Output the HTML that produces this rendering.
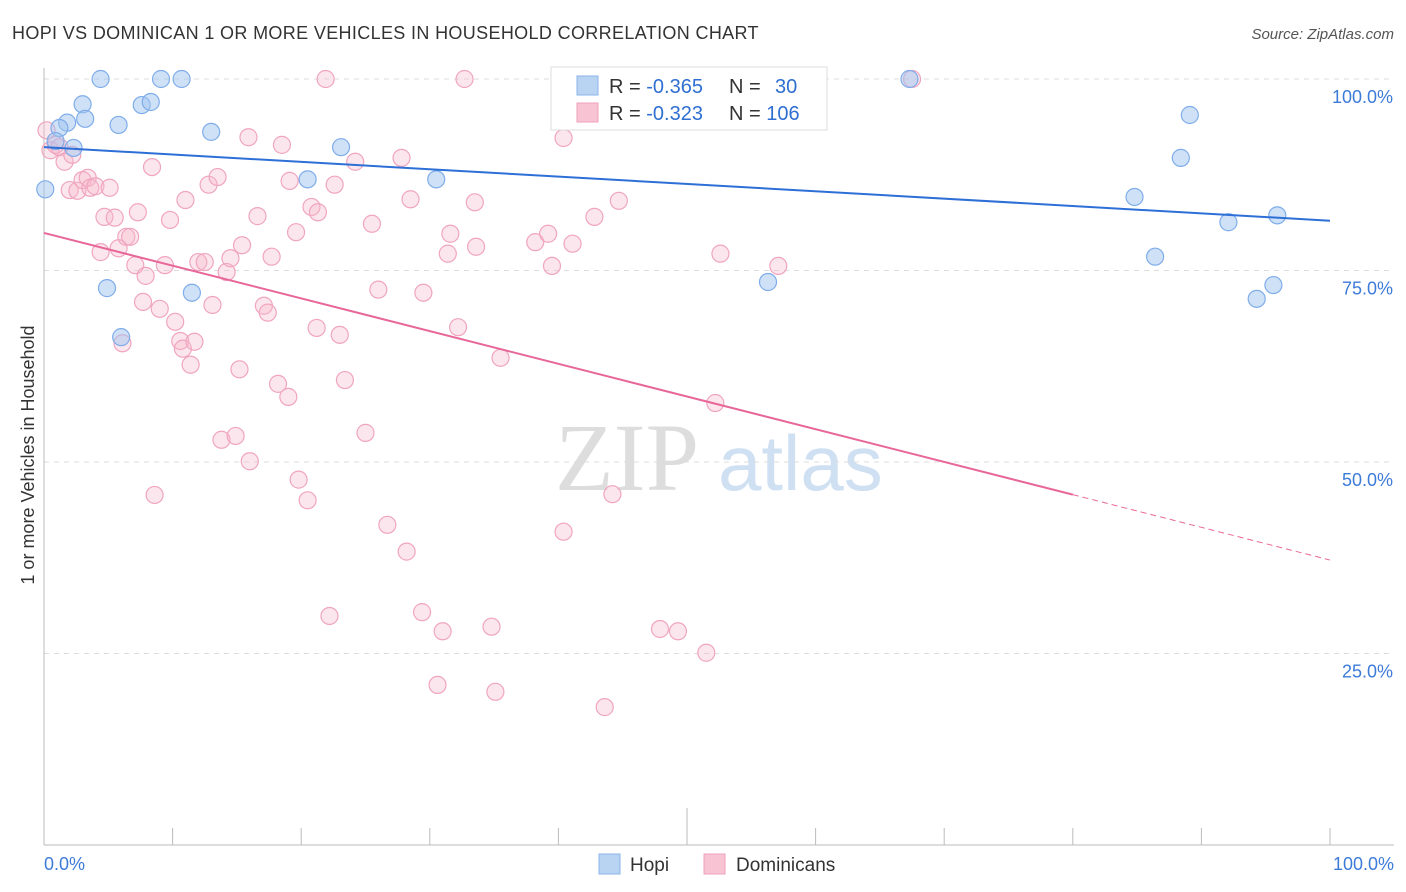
<!DOCTYPE html>
<html><head><meta charset="utf-8"><style>
body{margin:0;background:#fff;font-family:"Liberation Sans",sans-serif;}
svg{display:block}
</style></head><body>
<svg id="chart" width="1406" height="892">
<text x="12" y="39" font-size="18" fill="#333" letter-spacing="0.35">HOPI VS DOMINICAN 1 OR MORE VEHICLES IN HOUSEHOLD CORRELATION CHART</text>
<text x="1394" y="39" font-size="15" fill="#555" font-style="italic" text-anchor="end">Source: ZipAtlas.com</text>
<g>
<text x="555" y="490" font-size="96" font-family="Liberation Serif,serif" fill="#ddd">ZIP</text>
<text x="718" y="490" font-size="78" fill="#cfe0f3">atlas</text>
</g>
<g id="grid"></g>
<g id="axes"></g>
<g id="marks"></g>
<g id="trends"></g>
<text transform="translate(34,455) rotate(-90)" font-size="18" fill="#333" text-anchor="middle">1 or more Vehicles in Household</text>
<g>
<rect x="551" y="67" width="276" height="63" fill="#fff" stroke="#ddd"/>
<rect x="577" y="76" width="21" height="19" fill="#b9d3f3" stroke="#8ab4e8"/>
<rect x="577" y="103" width="21" height="19" fill="#f8c3d3" stroke="#f0a0bb"/>
<text x="609" y="93" font-size="20" fill="#333">R = <tspan fill="#2f6fd1">-0.365</tspan></text>
<text x="729" y="93" font-size="20" fill="#333">N = <tspan fill="#2f6fd1" x="775">30</tspan></text>
<text x="609" y="120" font-size="20" fill="#333">R = <tspan fill="#2f6fd1">-0.323</tspan></text>
<text x="729" y="120" font-size="20" fill="#333">N = <tspan fill="#2f6fd1">106</tspan></text>
</g>
<g>
<rect x="599" y="854" width="21" height="20" fill="#b9d3f3" stroke="#8ab4e8"/>
<text x="630" y="871" font-size="19" fill="#333">Hopi</text>
<rect x="704" y="854" width="21" height="20" fill="#f8c3d3" stroke="#f0a0bb"/>
<text x="736" y="871" font-size="19" fill="#333">Dominicans</text>
</g>
</svg>
<script>
const hopiX=[0.1,1.8,1.2,2.3,3.0,3.2,4.4,5.8,7.6,8.3,9.1,10.7,13.0,4.9,6.0,11.5,20.5,23.1,30.5,67.3,84.8,86.4,88.4,89.1,92.1,94.3,95.6,95.9,56.3,0.9];
const hopiY=[85.6,94.3,93.6,91.0,96.7,94.8,100,94.0,96.6,97.0,100,100,93.1,72.7,66.3,72.1,86.9,91.1,86.9,100,84.6,76.8,89.7,95.3,81.3,71.3,73.1,82.2,73.5,91.9];
const domX=[0.2,0.5,0.9,1.2,1.6,2.0,2.2,2.6,3.0,3.4,3.6,4.0,4.4,4.7,5.1,5.5,5.8,6.1,6.4,6.7,7.1,7.3,7.9,7.7,8.4,8.6,9.0,9.4,9.8,10.2,10.6,10.8,11.0,11.4,11.7,12.0,12.5,12.8,13.1,13.5,13.8,14.2,14.5,14.9,15.2,15.4,15.9,16.0,16.6,17.1,17.4,17.7,18.2,18.5,19.0,19.1,19.6,19.8,20.5,20.8,21.2,21.3,22.2,22.6,23.0,23.4,24.2,25.0,25.5,26.0,26.7,27.8,28.2,28.5,29.4,29.5,31.0,30.6,31.4,31.6,32.2,32.7,33.5,33.6,34.8,35.1,35.5,38.2,39.2,39.5,40.4,40.4,41.1,42.8,43.6,43.8,44.2,44.7,47.9,49.3,51.5,52.2,52.6,57.1,67.5,21.9];
const domY=[93.3,90.7,91.4,91.1,89.2,85.5,90.1,85.4,86.8,87.1,85.8,86.0,77.4,82.0,85.8,81.9,77.9,65.5,79.4,79.4,75.7,82.6,74.3,70.9,88.5,45.7,70.0,75.7,81.6,68.3,65.8,64.8,84.2,62.7,65.7,76.1,76.1,86.2,70.5,87.2,52.9,74.8,76.6,53.4,62.1,78.3,92.4,50.1,82.1,70.4,69.5,76.8,60.2,91.4,58.5,86.7,80.0,47.7,45.0,83.3,67.5,82.6,29.9,86.2,66.6,60.7,89.2,53.8,81.1,72.5,41.8,89.7,38.3,84.3,30.4,72.1,27.9,20.9,77.2,79.8,67.6,100,83.9,78.1,28.5,20.0,63.6,78.7,79.8,75.6,92.3,40.9,78.5,82.0,18.0,100,45.8,84.1,28.2,27.9,25.1,57.7,77.2,75.6,100,100];
const hopiTrend=[91.1,81.5];
const domTrend=[79.9,37.2];
const domSolidEnd=80;
const yTicks=[25,50,75,100];
const yTickLabels=["25.0%","50.0%","75.0%","100.0%"];
const xTicks=[0,10,20,30,40,50,60,70,80,90,100];

const NS="http://www.w3.org/2000/svg";
const X=v=>44+v*12.86, Y=v=>845-v*7.66;
function mk(tag,attrs,parent){const e=document.createElementNS(NS,tag);for(const k in attrs)e.setAttribute(k,attrs[k]);parent.appendChild(e);return e;}
const grid=document.getElementById('grid'),axes=document.getElementById('axes'),marks=document.getElementById('marks'),trends=document.getElementById('trends');
yTicks.forEach((t,i)=>{
  const l=mk('line',{x1:44,x2:1394,y1:Y(t),y2:Y(t),stroke:'#ddd','stroke-dasharray':'5,5'},grid);
  
  
  const tx=mk('text',{x:1393,y:Y(t)+24,'font-size':18,fill:'#3d7bd9','text-anchor':'end'},axes);
  tx.textContent=yTickLabels[i];
  
  
});
const ax=mk('line',{x1:44,x2:1394,y1:845,y2:845,stroke:'#bbb'},axes);


const ay=mk('line',{x1:44,x2:44,y1:68,y2:845,stroke:'#bbb'},axes);


xTicks.forEach(t=>{
  const l=mk('line',{x1:X(t),x2:X(t),y1:t===50?808:828,y2:845,stroke:'#bbb'},axes);
  
  
});
const xl0=mk('text',{x:44,y:870,'font-size':18,fill:'#3d7bd9'},axes);xl0.textContent='0.0%';


const xl1=mk('text',{x:1394,y:870,'font-size':18,fill:'#3d7bd9','text-anchor':'end'},axes);xl1.textContent='100.0%';


domX.forEach((v,i)=>{
  const c=mk('circle',{cx:X(v),cy:Y(domY[i]),r:8.5,fill:'rgba(246,182,203,0.35)',stroke:'#f0a5bf','stroke-width':1.2},marks);
  
  
});
hopiX.forEach((v,i)=>{
  const c=mk('circle',{cx:X(v),cy:Y(hopiY[i]),r:8.5,fill:'rgba(160,196,240,0.5)',stroke:'#7fadea','stroke-width':1.2},marks);
  
  
});
const ht=mk('line',{x1:X(0),y1:Y(hopiTrend[0]),x2:X(100),y2:Y(hopiTrend[1]),stroke:'#2d6fd6','stroke-width':2},trends);


const dy=v=>domTrend[0]+(domTrend[1]-domTrend[0])*v/100;
const dt=mk('line',{x1:X(0),y1:Y(dy(0)),x2:X(domSolidEnd),y2:Y(dy(domSolidEnd)),stroke:'#e8679a','stroke-width':2},trends);


const dd=mk('line',{x1:X(domSolidEnd),y1:Y(dy(domSolidEnd)),x2:X(100),y2:Y(dy(100)),stroke:'#e8679a','stroke-width':1,'stroke-dasharray':'6,4'},trends);


</script>
</body></html>
